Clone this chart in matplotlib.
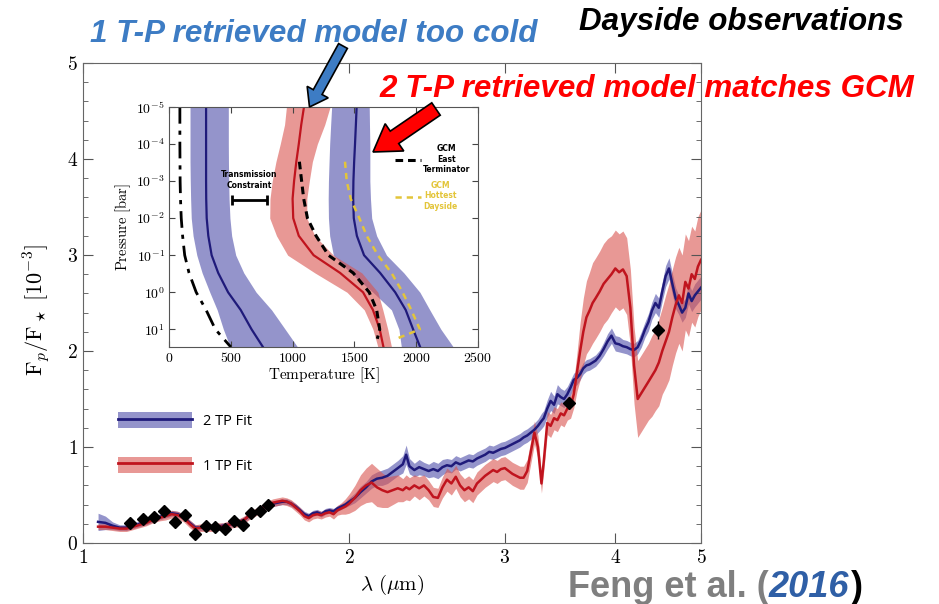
import matplotlib
matplotlib.use("Agg")
import numpy as np
import matplotlib.pyplot as plt
from matplotlib.patches import Patch, FancyArrow
from matplotlib.lines import Line2D
from matplotlib.ticker import AutoMinorLocator, NullLocator

plt.rcParams["mathtext.fontset"] = "cm"

# ---------------- emission spectrum (main panel) ----------------
wavelength = [
    1.04, 1.06, 1.08, 1.10, 1.12, 1.14, 1.16, 1.18, 1.20, 1.22,
    1.24, 1.26, 1.28, 1.30, 1.32, 1.34, 1.36, 1.38, 1.40, 1.42,
    1.44, 1.46, 1.48, 1.50, 1.52, 1.54, 1.56, 1.58, 1.60, 1.62,
    1.64, 1.66, 1.68, 1.70, 1.72, 1.74, 1.76, 1.78, 1.80, 1.82,
    1.84, 1.86, 1.88, 1.90, 1.92, 1.94, 1.96, 1.98, 2.00, 2.03,
    2.06, 2.09, 2.12, 2.15, 2.18, 2.21, 2.24, 2.27, 2.30, 2.32,
    2.34, 2.37, 2.40, 2.43, 2.46, 2.49, 2.52, 2.55, 2.58, 2.61,
    2.64, 2.67, 2.70, 2.73, 2.76, 2.79, 2.82, 2.85, 2.88, 2.91,
    2.94, 2.97, 3.00, 3.03, 3.06, 3.09, 3.12, 3.15, 3.18, 3.21,
    3.24, 3.27, 3.30, 3.32, 3.35, 3.38, 3.41, 3.44, 3.47, 3.50,
    3.53, 3.56, 3.59, 3.62, 3.65, 3.68, 3.71, 3.74, 3.77, 3.80,
    3.84, 3.88, 3.92, 3.96, 4.00, 4.04, 4.08, 4.12, 4.16, 4.20,
    4.24, 4.28, 4.32, 4.36, 4.40, 4.44, 4.48, 4.52, 4.56, 4.60,
    4.64, 4.68, 4.72, 4.76, 4.80, 4.84, 4.88, 4.92, 4.96, 5.00,
]

fit_2tp = [
    0.22, 0.21, 0.18, 0.16, 0.16, 0.18, 0.20, 0.22, 0.25, 0.27,
    0.29, 0.31, 0.30, 0.27, 0.21, 0.16, 0.16, 0.17, 0.16, 0.17,
    0.18, 0.19, 0.20, 0.22, 0.24, 0.28, 0.31, 0.34, 0.37, 0.39,
    0.41, 0.42, 0.43, 0.43, 0.41, 0.38, 0.34, 0.30, 0.28, 0.31,
    0.32, 0.30, 0.33, 0.34, 0.33, 0.36, 0.38, 0.40, 0.43, 0.47,
    0.53, 0.58, 0.64, 0.67, 0.68, 0.70, 0.74, 0.78, 0.82, 0.92,
    0.80, 0.76, 0.79, 0.77, 0.75, 0.77, 0.75, 0.79, 0.81, 0.80,
    0.84, 0.82, 0.84, 0.86, 0.85, 0.88, 0.90, 0.92, 0.95, 0.94,
    0.96, 0.98, 0.99, 1.01, 1.03, 1.05, 1.07, 1.10, 1.12, 1.15,
    1.18, 1.22, 1.27, 1.30, 1.40, 1.48, 1.44, 1.55, 1.52, 1.50,
    1.55, 1.62, 1.70, 1.72, 1.76, 1.82, 1.85, 1.86, 1.88, 1.90,
    1.95, 2.02, 2.10, 2.16, 2.08, 2.07, 2.05, 2.04, 2.02, 2.01,
    2.04, 2.12, 2.22, 2.30, 2.42, 2.50, 2.45, 2.62, 2.78, 2.86,
    2.70, 2.55, 2.48, 2.40, 2.45, 2.60, 2.52, 2.58, 2.62, 2.66,
]

fit_2tp_err = [
    0.09, 0.07, 0.04, 0.03, 0.03, 0.03, 0.03, 0.03, 0.03, 0.03,
    0.03, 0.03, 0.03, 0.03, 0.03, 0.03, 0.03, 0.03, 0.03, 0.03,
    0.03, 0.03, 0.03, 0.03, 0.03, 0.03, 0.03, 0.03, 0.03, 0.03,
    0.03, 0.03, 0.03, 0.03, 0.03, 0.03, 0.03, 0.03, 0.03, 0.03,
    0.03, 0.03, 0.03, 0.03, 0.03, 0.03, 0.03, 0.03, 0.04, 0.05,
    0.06, 0.06, 0.07, 0.07, 0.08, 0.08, 0.08, 0.08, 0.09, 0.10,
    0.08, 0.07, 0.08, 0.07, 0.07, 0.08, 0.08, 0.08, 0.07, 0.07,
    0.07, 0.07, 0.07, 0.07, 0.07, 0.07, 0.07, 0.07, 0.07, 0.07,
    0.07, 0.07, 0.07, 0.07, 0.07, 0.07, 0.07, 0.07, 0.07, 0.07,
    0.07, 0.07, 0.08, 0.08, 0.09, 0.10, 0.09, 0.10, 0.09, 0.09,
    0.08, 0.08, 0.07, 0.07, 0.06, 0.06, 0.06, 0.06, 0.06, 0.06,
    0.06, 0.07, 0.08, 0.08, 0.08, 0.08, 0.07, 0.07, 0.07, 0.07,
    0.07, 0.08, 0.08, 0.09, 0.09, 0.10, 0.10, 0.10, 0.11, 0.11,
    0.11, 0.11, 0.10, 0.10, 0.10, 0.11, 0.11, 0.12, 0.12, 0.12,
]

fit_1tp = [
    0.17, 0.17, 0.16, 0.15, 0.15, 0.17, 0.19, 0.21, 0.24, 0.26,
    0.28, 0.30, 0.29, 0.26, 0.20, 0.15, 0.16, 0.16, 0.16, 0.17,
    0.17, 0.19, 0.20, 0.21, 0.24, 0.28, 0.31, 0.34, 0.37, 0.40,
    0.42, 0.43, 0.44, 0.43, 0.41, 0.37, 0.33, 0.28, 0.26, 0.29,
    0.30, 0.29, 0.31, 0.32, 0.30, 0.34, 0.36, 0.38, 0.41, 0.47,
    0.55, 0.60, 0.63, 0.58, 0.55, 0.53, 0.55, 0.57, 0.55, 0.58,
    0.56, 0.60, 0.57, 0.60, 0.55, 0.48, 0.47, 0.58, 0.66, 0.62,
    0.69, 0.60, 0.55, 0.58, 0.54, 0.62, 0.66, 0.70, 0.73, 0.76,
    0.74, 0.77, 0.78, 0.75, 0.72, 0.70, 0.68, 0.68, 0.75, 0.95,
    1.15, 1.00, 0.62, 0.85, 1.25, 1.22, 1.30, 1.28, 1.35, 1.33,
    1.40, 1.42, 1.55, 1.78, 2.00, 2.20, 2.35, 2.42, 2.50, 2.55,
    2.62, 2.70, 2.75, 2.80, 2.86, 2.82, 2.85, 2.78, 2.45, 1.85,
    1.50, 1.56, 1.62, 1.68, 1.74, 1.80, 1.88, 2.00, 2.10, 2.20,
    2.35, 2.48, 2.58, 2.50, 2.72, 2.65, 2.80, 2.75, 2.88, 2.95,
]

fit_1tp_err = [
    0.03, 0.03, 0.03, 0.03, 0.03, 0.03, 0.03, 0.03, 0.03, 0.03,
    0.04, 0.04, 0.04, 0.04, 0.04, 0.04, 0.04, 0.04, 0.04, 0.04,
    0.04, 0.04, 0.04, 0.04, 0.04, 0.04, 0.04, 0.04, 0.04, 0.04,
    0.04, 0.04, 0.04, 0.04, 0.04, 0.04, 0.04, 0.04, 0.04, 0.04,
    0.04, 0.04, 0.04, 0.04, 0.05, 0.05, 0.06, 0.08, 0.10, 0.13,
    0.16, 0.18, 0.20, 0.20, 0.18, 0.16, 0.15, 0.14, 0.12, 0.13,
    0.12, 0.11, 0.12, 0.11, 0.10, 0.10, 0.10, 0.11, 0.12, 0.12,
    0.12, 0.12, 0.12, 0.12, 0.12, 0.12, 0.12, 0.12, 0.12, 0.12,
    0.12, 0.12, 0.12, 0.12, 0.12, 0.12, 0.12, 0.12, 0.12, 0.12,
    0.12, 0.12, 0.10, 0.10, 0.12, 0.12, 0.12, 0.12, 0.12, 0.12,
    0.12, 0.12, 0.14, 0.20, 0.30, 0.35, 0.38, 0.40, 0.42, 0.42,
    0.42, 0.42, 0.42, 0.40, 0.40, 0.40, 0.40, 0.40, 0.40, 0.40,
    0.40, 0.40, 0.40, 0.40, 0.42, 0.42, 0.45, 0.45, 0.48, 0.50,
    0.50, 0.50, 0.50, 0.50, 0.50, 0.50, 0.50, 0.50, 0.52, 0.52,
]

obs_wl = [1.130, 1.170, 1.204, 1.236, 1.271, 1.305, 1.339, 1.377, 1.411,
          1.448, 1.480, 1.517, 1.550, 1.587, 1.621, 3.55, 4.47]
obs_val = [0.205, 0.245, 0.27, 0.33, 0.22, 0.29, 0.09, 0.18, 0.17,
           0.145, 0.23, 0.19, 0.31, 0.33, 0.40, 1.46, 2.22]
obs_err = [0.03, 0.03, 0.03, 0.03, 0.03, 0.03, 0.03, 0.03, 0.03,
           0.03, 0.03, 0.03, 0.03, 0.03, 0.03, 0.06, 0.09]

x_ticks = [1, 2, 3, 4, 5]
y_ticks = [0, 1, 2, 3, 4, 5]

# ---------------- T-P profiles (inset) ----------------
pressure = [1e-5, 3e-5, 1e-4, 3e-4, 1e-3, 3e-3, 1e-2, 3e-2, 1e-1, 3e-1, 1, 3, 10, 30]

cold_med = [300, 300, 300, 300, 300, 301, 305, 318, 345, 398, 478, 580, 668, 760]
cold_lo = [170, 170, 170, 170, 172, 175, 180, 195, 225, 268, 330, 390, 440, 495]
cold_hi = [480, 480, 480, 481, 483, 486, 493, 507, 540, 605, 705, 830, 940, 1040]

hot_med = [1518, 1512, 1505, 1498, 1492, 1490, 1495, 1520, 1578, 1708, 1830, 1915, 1975, 2032]
hot_lo = [1316, 1308, 1300, 1295, 1290, 1288, 1290, 1300, 1330, 1470, 1650, 1800, 1860, 1880]
hot_hi = [1620, 1622, 1625, 1625, 1625, 1630, 1640, 1680, 1760, 1900, 2030, 2110, 2200, 2300]

one_med = [1092, 1070, 1050, 1030, 1012, 1000, 1005, 1050, 1170, 1384, 1570, 1650, 1705, 1735]
one_lo = [950, 935, 900, 865, 835, 817, 815, 870, 960, 1180, 1440, 1580, 1650, 1690]
one_hi = [1303, 1260, 1200, 1160, 1135, 1115, 1115, 1180, 1330, 1560, 1690, 1730, 1770, 1800]

dashdot_T = [88, 88, 88, 89, 90, 93, 99, 110, 127, 162, 220, 300, 375, 500]

gcm_pressure = [3e-4, 1e-3, 3e-3, 1e-2, 3e-2, 1e-1, 3e-1, 1, 3, 10, 18]
gcm_east = [1055, 1073, 1090, 1120, 1190, 1290, 1490, 1620, 1680, 1705, 1685]
gcm_hot = [1424, 1438, 1470, 1540, 1600, 1690, 1800, 1890, 1960, 2030, 1840]

trans_T, trans_dT, trans_P = 648, 142, 3.2e-3

inset_xticks = [0, 500, 1000, 1500, 2000, 2500]
inset_yticks = [1e-5, 1e-4, 1e-3, 1e-2, 1e-1, 1, 10]
inset_ylabels = [r"$10^{-5}$", r"$10^{-4}$", r"$10^{-3}$", r"$10^{-2}$",
                 r"$10^{-1}$", r"$10^{0}$", r"$10^{1}$"]

# colours
blue_line, blue_band = "#1f1a7a", "#5b5bb0"
red_line, red_band = "#c0141e", "#d9534f"
gold = "#e3c53a"

W, H = 939, 604
fig = plt.figure(figsize=(W / 100, H / 100), dpi=100)

# ================= main panel =================
ax = fig.add_axes([83 / W, 1 - 543 / H, 618 / W, 480 / H])
wl = np.array(wavelength)
b, be = np.array(fit_2tp), np.array(fit_2tp_err)
r, re = np.array(fit_1tp), np.array(fit_1tp_err)

ax.fill_between(wl, b - be, b + be, color=blue_band, alpha=0.65, lw=0)
ax.plot(wl, b, color=blue_line, lw=1.8)
ax.fill_between(wl, r - re, r + re, color=red_band, alpha=0.6, lw=0)
ax.plot(wl, r, color=red_line, lw=1.8)
ax.errorbar(obs_wl, obs_val, yerr=obs_err, fmt="D", ms=6, color="black",
            elinewidth=1, capsize=0, zorder=5)

ax.set_xscale("log")
ax.set_xlim(1, 5)
ax.set_ylim(0, 5)
ax.xaxis.set_major_locator(plt.FixedLocator(x_ticks))
ax.xaxis.set_minor_locator(NullLocator())
ax.set_xticklabels([f"${t}$" for t in x_ticks])
ax.set_yticks(y_ticks)
ax.set_yticklabels([f"${t}$" for t in y_ticks])
ax.yaxis.set_minor_locator(AutoMinorLocator(5))
ax.tick_params(which="both", direction="in", top=True, right=True,
               labelsize=14, color="#555555")
ax.tick_params(which="major", length=7)
ax.tick_params(which="minor", length=3.5)
for s in ax.spines.values():
    s.set_color("#666666")

ax.set_xlabel(r"$\lambda\ (\mu\mathrm{m})$", fontsize=15, labelpad=4)
ax.set_ylabel(r"$\mathrm{F}_p/\mathrm{F}_\star\ [10^{-3}]$", fontsize=16)
ax.yaxis.set_label_coords(-0.05, 0.485)

handles = [
    (Patch(facecolor=blue_band, alpha=0.65, edgecolor="none"),
     Line2D([], [], color=blue_line, lw=2)),
    (Patch(facecolor=red_band, alpha=0.6, edgecolor="none"),
     Line2D([], [], color=red_line, lw=2)),
]
ax.legend(handles, ["2 TP Fit", "1 TP Fit"], loc="upper left",
          bbox_to_anchor=(0.0566, 0.272), frameon=False,
          handlelength=5.1, handleheight=1.3, labelspacing=1.9,
          handletextpad=0.75, borderpad=0, borderaxespad=0,
          prop={"family": "Open Sans", "size": 10.5})

# ================= inset: T-P profiles =================
axi = fig.add_axes([169 / W, 1 - 347 / H, 309 / W, 240 / H])
P = np.array(pressure)
axi.fill_betweenx(P, cold_lo, cold_hi, color=blue_band, alpha=0.65, lw=0)
axi.fill_betweenx(P, hot_lo, hot_hi, color=blue_band, alpha=0.65, lw=0)
axi.fill_betweenx(P, one_lo, one_hi, color=red_band, alpha=0.6, lw=0)
axi.plot(cold_med, P, color=blue_line, lw=1.6)
axi.plot(hot_med, P, color=blue_line, lw=1.6)
axi.plot(one_med, P, color=red_line, lw=1.6)
axi.plot(dashdot_T, P, color="black", lw=2, ls=(0, (6, 2.5, 1.5, 2.5)))
l_east, = axi.plot(gcm_east, gcm_pressure, color="black", lw=2.2, ls=(0, (2.5, 1.6)))
l_hot, = axi.plot(gcm_hot, gcm_pressure, color=gold, lw=1.8, ls=(0, (2.5, 2)))

axi.errorbar([trans_T], [trans_P], xerr=[trans_dT], fmt="none", ecolor="black",
             elinewidth=2, capsize=3.5, capthick=2)
axi.text(trans_T, trans_P * 0.55, "Transmission\nConstraint", ha="center",
         va="bottom", fontsize=5.5, fontweight="bold", linespacing=1.3)

axi.set_yscale("log")
axi.set_xlim(0, 2500)
axi.set_ylim(30, 1e-5)
axi.set_xticks(inset_xticks)
axi.set_xticklabels([f"${t}$" for t in inset_xticks])
axi.set_yticks(inset_yticks)
axi.set_yticklabels(inset_ylabels)
axi.yaxis.set_minor_locator(NullLocator())
axi.tick_params(which="both", direction="in", top=True, right=True,
                labelsize=10, length=4, color="#444444", pad=3)
for s in axi.spines.values():
    s.set_color("#555555")
axi.set_xlabel(r"$\mathrm{Temperature\ [K]}$", fontsize=11, labelpad=0)
axi.set_ylabel(r"$\mathrm{Pressure\ [bar]}$", fontsize=10.5, labelpad=2)

leg = axi.legend([l_east, l_hot], ["GCM\nEast\nTerminator", "GCM\nHottest\nDayside"],
                 loc="upper right", bbox_to_anchor=(0.975, 0.845), frameon=False,
                 handlelength=3.4, handletextpad=0.2, labelspacing=0.9,
                 borderpad=0, borderaxespad=0, labelcolor=["black", gold],
                 prop={"size": 5.5, "weight": "bold"})
for t in leg.get_texts():
    t.set_multialignment("center")

# ================= annotations =================
title_font = {"family": "Liberation Sans", "weight": "bold", "style": "italic", "size": 22.6}
fig.text(314 / W, 1 - 42 / H, "1 T-P retrieved model too cold", ha="center",
         va="baseline", color="#3d7cc4", **title_font)
fig.text(741 / W, 1 - 30 / H, "Dayside observations", ha="center",
         va="baseline", color="black", **title_font)
fig.text(647 / W, 1 - 97 / H, "2 T-P retrieved model matches GCM", ha="center",
         va="baseline", color="#ff0000", **title_font)

# arrows drawn in inch units so the heads stay symmetric
fig.add_artist(FancyArrow(3.43, 5.58, -0.335, -0.61, width=0.1, head_width=0.24,
                          head_length=0.17, length_includes_head=True,
                          facecolor="#3d7cc4", edgecolor="black", lw=1.2,
                          transform=fig.dpi_scale_trans, zorder=10))
fig.add_artist(FancyArrow(4.36, 4.95, -0.63, -0.43, width=0.15, head_width=0.33,
                          head_length=0.26, length_includes_head=True,
                          facecolor="#ff0000", edgecolor="black", lw=1.2,
                          transform=fig.dpi_scale_trans, zorder=10))

# citation, built from three coloured pieces
cite_font = {"family": "Liberation Sans", "weight": "bold", "size": 26}
base_y = 1 - 597 / H
t1 = fig.text(568 / W, base_y, "Feng et al. (", color="#7f7f7f", va="baseline", **cite_font)
fig.canvas.draw()
x1 = t1.get_window_extent().x1
t2 = fig.text(x1 / W, base_y, "2016", color="#2f5fa6", va="baseline",
              style="italic", **cite_font)
fig.canvas.draw()
x2 = t2.get_window_extent().x1
fig.text(x2 / W + 0.002, base_y, ")", color="black", va="baseline", **cite_font)

fig.savefig("out.png", dpi=100)
